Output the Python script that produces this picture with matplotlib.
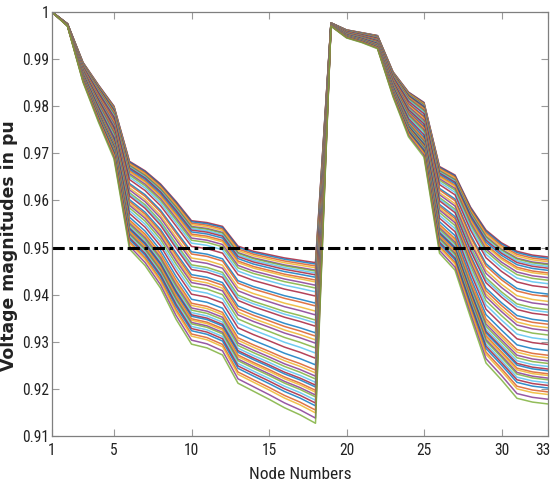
import matplotlib
matplotlib.use("Agg")
import matplotlib.pyplot as plt
import matplotlib.transforms as mtransforms
import numpy as np
from matplotlib import font_manager

# ---------------- data ----------------
nodes = list(range(1, 34))

# voltage profile of the lightest-loaded case (upper envelope)
v_light = [1.0000, 0.9975, 0.9893, 0.9845, 0.9800, 0.9683, 0.9663, 0.9635, 0.9598,
           0.9557, 0.9553, 0.9545, 0.9503, 0.9492, 0.9485, 0.9478, 0.9473, 0.9468,
           0.9977, 0.9962, 0.9956, 0.9950, 0.9873, 0.9830, 0.9808, 0.9672, 0.9654,
           0.9586, 0.9537, 0.9510, 0.9492, 0.9484, 0.9480]

# voltage profile of the heaviest-loaded case (lower envelope)
v_heavy = [1.0000, 0.9970, 0.9851, 0.9766, 0.9688, 0.9497, 0.9462, 0.9414, 0.9348,
           0.9295, 0.9287, 0.9272, 0.9212, 0.9195, 0.9178, 0.9160, 0.9145, 0.9127,
           0.9970, 0.9945, 0.9935, 0.9922, 0.9820, 0.9735, 0.9692, 0.9488, 0.9452,
           0.9352, 0.9255, 0.9219, 0.9180, 0.9172, 0.9168]

# voltage at node 18 for each plotted loading case
v_node18 = [0.9468, 0.9465, 0.9461, 0.9457, 0.9452, 0.9450, 0.9446, 0.9442, 0.9437,
            0.9431, 0.9427, 0.9420, 0.9414, 0.9406, 0.9397, 0.9382, 0.9376, 0.9365,
            0.9357, 0.9346, 0.9340, 0.9333, 0.9319, 0.9312, 0.9304, 0.9297, 0.9287,
            0.9276, 0.9265, 0.9251, 0.9240, 0.9234, 0.9227, 0.9221, 0.9214, 0.9208,
            0.9204, 0.9197, 0.9193, 0.9187, 0.9183, 0.9176, 0.9170, 0.9164, 0.9155,
            0.9149, 0.9138, 0.9127]

v_limit = 0.95

x_ticks = [1, 5, 10, 15, 20, 25, 30, 33]
y_ticks = [0.91, 0.92, 0.93, 0.94, 0.95, 0.96, 0.97, 0.98, 0.99, 1.00]
y_tick_labels = ["0.91", "0.92", "0.93", "0.94", "0.95", "0.96", "0.97", "0.98", "0.99", "1"]

matlab_colors = ["#A2142F", "#0072BD", "#D95319", "#EDB120", "#7E2F8E", "#77AC30", "#4DBEEE"]

# ---------------- fonts ----------------
installed = {f.name for f in font_manager.fontManager.ttflist}
narrow = "Liberation Sans"
for cand in ["Liberation Sans Narrow", "Roboto Condensed", "DejaVu Sans Condensed",
             "Open Sans Condensed", "Liberation Sans"]:
    if cand in installed:
        narrow = cand
        break

# ---------------- figure ----------------
fig = plt.figure(figsize=(5.52, 4.91), dpi=100)
ax = fig.add_axes([52 / 552, 1 - 436 / 491, 496 / 552, 424 / 491])

vl = np.array(v_light)
vh = np.array(v_heavy)
for i, v18 in enumerate(v_node18):
    w = (v_light[17] - v18) / (v_light[17] - v_heavy[17])
    curve = vl + w * (vh - vl)
    ax.plot(nodes, curve, color=matlab_colors[i % len(matlab_colors)], lw=1.1, alpha=0.8)

ax.plot([nodes[0], nodes[-1]], [v_limit, v_limit], color="black", lw=2.2,
        linestyle=(0, (4, 1.5, 1.2, 1.5)))

ax.set_xlim(1, 33)
ax.set_ylim(0.91, 1.0)
ax.set_xticks(x_ticks)
ax.set_xticklabels([str(t) for t in x_ticks])
ax.set_yticks(y_ticks)
ax.set_yticklabels(y_tick_labels)

for s in ax.spines.values():
    s.set_color("#7f7f7f")
    s.set_linewidth(0.9)
ax.tick_params(direction="in", top=True, right=True, length=5, width=0.8,
               color="#9a9a9a", labelcolor="#222222")
ax.tick_params(axis="y", pad=2)
ax.tick_params(axis="x", pad=5)
for lab in ax.get_xticklabels() + ax.get_yticklabels():
    lab.set_fontfamily(narrow)
    lab.set_fontsize(11.2)

# keep the last x tick label inside the figure
last = ax.get_xticklabels()[-1]
last.set_transform(last.get_transform() +
                   mtransforms.ScaledTranslation(-5 / 100, 0, fig.dpi_scale_trans))

ax.set_xlabel("Node Numbers", fontfamily=narrow, fontsize=12.5, color="#222222")
ax.xaxis.set_label_coords(0.5, -0.072)
ax.set_ylabel("Voltage magnitudes in pu", fontfamily="DejaVu Sans", fontweight="bold",
              fontsize=12.4, color="#222222")
ax.yaxis.set_label_coords(-0.068, 0.45)

fig.savefig("out.png", dpi=100)
